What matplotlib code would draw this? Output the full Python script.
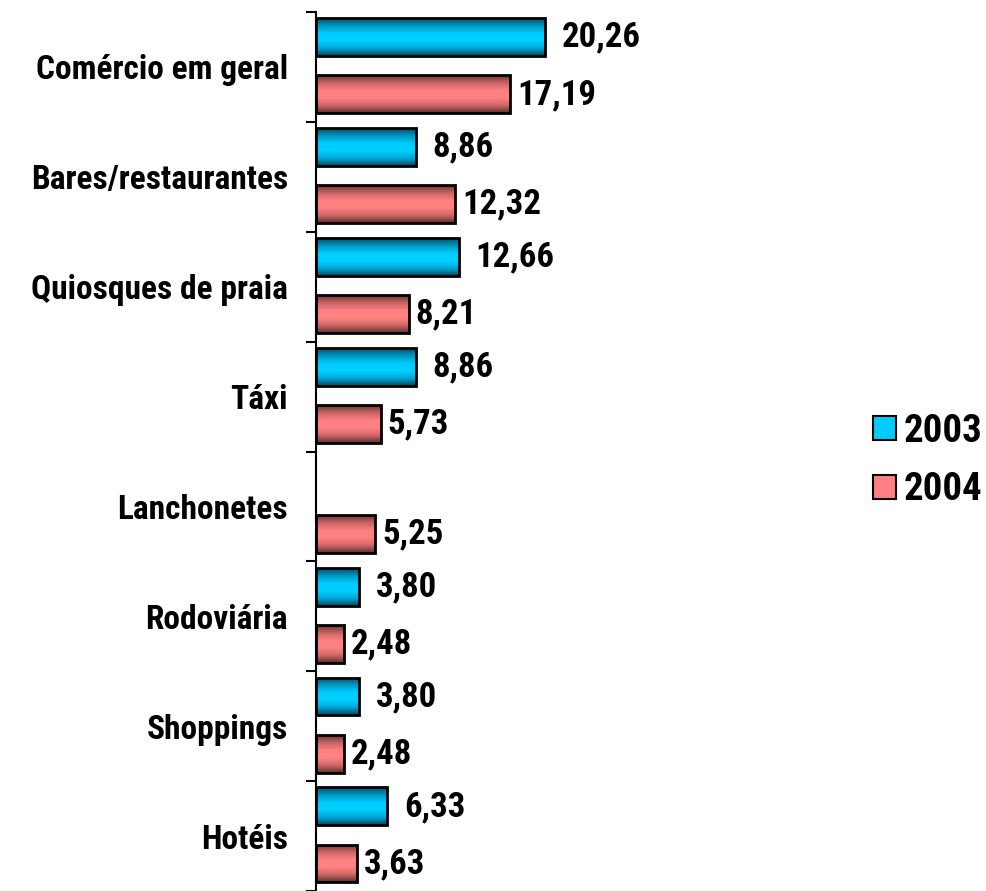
import numpy as np
import matplotlib
matplotlib.use("Agg")
from matplotlib import pyplot as plt
from matplotlib.colors import LinearSegmentedColormap
from matplotlib.patches import Patch

plt.rcParams['font.family'] = ['Roboto Condensed', 'PT Sans Narrow', 'DejaVu Sans']
plt.rcParams['font.weight'] = 'bold'

categories = ["Comércio em geral", "Bares/restaurantes", "Quiosques de praia", "Táxi",
              "Lanchonetes", "Rodoviária", "Shoppings", "Hotéis"]
vals_2003 = [20.26, 8.86, 12.66, 8.86, np.nan, 3.80, 3.80, 6.33]
vals_2004 = [17.19, 12.32, 8.21, 5.73, 5.25, 2.48, 2.48, 3.63]
series_names = ["2003", "2004"]

# darker bands at the top/bottom edge of each bar, bright in the middle
blue_map = LinearSegmentedColormap.from_list("b", ["#004e6a", "#0098c0", "#00ccff", "#00d0ff", "#00a8d8", "#004860"])
red_map = LinearSegmentedColormap.from_list("r", ["#6e3636", "#c86464", "#ff8080", "#ff8282", "#d06868", "#603030"])

fig = plt.figure(figsize=(9.87, 8.91), dpi=100)
ax = fig.add_axes([0.32, 0.0, 0.53, 0.9865])

y = np.arange(len(categories))
h = 0.345
grad = np.linspace(0, 1, 64).reshape(-1, 1)


def draw_bars(vals, offset, cmap, pad):
    bars = ax.barh(y + offset, vals, height=h, facecolor='none', edgecolor='black', linewidth=2, zorder=3)
    for b, v in zip(bars, vals):
        if np.isnan(v):
            continue
        x0, y0 = b.get_x(), b.get_y()
        im = ax.imshow(grad, cmap=cmap, aspect='auto', extent=[x0, x0 + b.get_width(), y0 + h, y0],
                       zorder=2, interpolation='bilinear')
        im.set_clip_path(b)
        ax.annotate(f"{v:.2f}".replace(".", ","), (v, y0 + h / 2), xytext=(pad, 0),
                    textcoords='offset points', va='center', ha='left', fontsize=25, fontweight='bold')


draw_bars(vals_2003, -0.27, blue_map, 12)
draw_bars(vals_2004, 0.25, red_map, 5)

ax.set_xlim(0, 46.3)
ax.set_ylim(len(categories) - 0.5, -0.5)

ax.set_yticks(np.arange(-0.5, len(categories), 1.0))
ax.set_yticklabels([])
ax.set_yticks(y, minor=True)
ax.set_yticklabels(categories, minor=True, fontsize=24, fontweight='bold')
ax.tick_params(axis='y', which='major', length=7, width=1.5, direction='out')
ax.tick_params(axis='y', which='minor', length=0, pad=20)
ax.set_xticks([])
for s in ['top', 'right', 'bottom']:
    ax.spines[s].set_visible(False)
ax.spines['left'].set_linewidth(1.5)

handles = [Patch(facecolor="#00ccff", edgecolor='black', linewidth=1.5),
           Patch(facecolor="#ff8080", edgecolor='black', linewidth=1.5)]
fig.legend(handles, series_names, loc='center left', bbox_to_anchor=(0.877, 0.483), frameon=False,
           prop={'size': 28, 'weight': 'bold'}, handlelength=0.57, handleheight=0.57,
           handletextpad=0.2, labelspacing=0.55, borderaxespad=0, borderpad=0.2)

fig.savefig("out.png", dpi=100)
